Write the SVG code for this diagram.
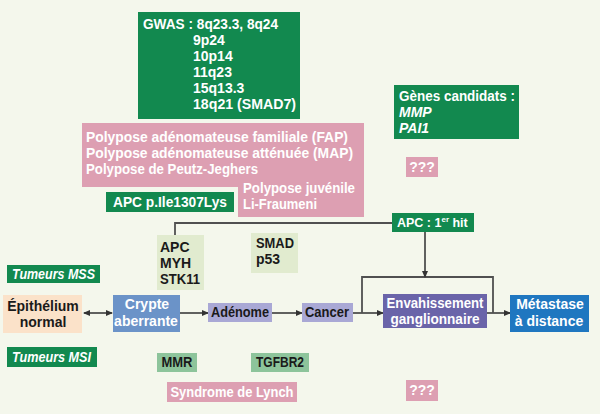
<svg xmlns="http://www.w3.org/2000/svg" width="600" height="414" viewBox="0 0 600 414">
<defs>
<style>
text{font-family:"Liberation Sans",Arial,sans-serif;font-weight:bold;font-size:14px}
.w{fill:#ffffff}.k{fill:#1a1a1a}.i{font-style:italic}
.mid{text-anchor:middle}
.sm{font-size:12.5px}
.dg{fill:#12894f}.pk{fill:#dd9fb2}.pg{fill:#e1ebcf}.mg{fill:#8dc49b}
.lav{fill:#a9a8d5}.pur{fill:#6a64a9}.cry{fill:#6b93c8}.met{fill:#1f77c0}.pch{fill:#fbe2c9}
.ln{fill:none;stroke:#505050;stroke-width:1.8}
</style>
<marker id="ah" markerWidth="7" markerHeight="6" refX="6" refY="3" orient="auto" markerUnits="userSpaceOnUse">
<path d="M0,0 L7,3 L0,6 Z" fill="#333333"/>
</marker>
<marker id="as" markerWidth="7" markerHeight="6" refX="1" refY="3" orient="auto" markerUnits="userSpaceOnUse">
<path d="M7,0 L0,3 L7,6 Z" fill="#333333"/>
</marker>
</defs>
<rect width="600" height="414" fill="#f4f7ec"/>

<g id="connectors">
<path class="ln" d="M84,313 H112" marker-start="url(#as)" marker-end="url(#ah)"/>
<path class="ln" d="M180,313 H208" marker-end="url(#ah)"/>
<path class="ln" d="M272,313 H302" marker-end="url(#ah)"/>
<path class="ln" d="M353,313 H383" marker-end="url(#ah)"/>
<path class="ln" d="M487,313 H510" marker-end="url(#ah)"/>
<path class="ln" d="M362,313 V277 H493 V313"/>
<path class="ln" d="M425,232 V277" marker-end="url(#ah)"/>
<path class="ln" d="M175,236 V223 H392"/>
</g>

<g id="gwas">
<rect class="dg" x="138" y="12" width="162" height="107"/>
<text class="w" x="143" y="29" textLength="135" lengthAdjust="spacingAndGlyphs">GWAS : 8q23.3, 8q24</text>
<text class="w" x="193" y="45">9p24</text>
<text class="w" x="193" y="61">10p14</text>
<text class="w" x="193" y="77">11q23</text>
<text class="w" x="193" y="93">15q13.3</text>
<text class="w" x="193" y="109" textLength="103" lengthAdjust="spacingAndGlyphs">18q21 (SMAD7)</text>
</g>

<g id="genes-candidats">
<rect class="dg" x="394" y="85" width="125" height="54"/>
<text class="w" x="399" y="101" textLength="116" lengthAdjust="spacingAndGlyphs">Gènes candidats :</text>
<text class="w i" x="399" y="117">MMP</text>
<text class="w i" x="399" y="133">PAI1</text>
</g>

<g id="unk-top">
<rect class="pk" x="406" y="157" width="32" height="20"/>
<text class="w mid" x="422" y="172">???</text>
</g>

<g id="polyposes">
<path class="pk" d="M82,123 H364 V217 H238 V187 H82 Z"/>
<text class="w" x="86" y="142" textLength="262" lengthAdjust="spacingAndGlyphs">Polypose adénomateuse familiale (FAP)</text>
<text class="w" x="86" y="158" textLength="267" lengthAdjust="spacingAndGlyphs">Polypose adénomateuse atténuée (MAP)</text>
<text class="w" x="86" y="174" textLength="172" lengthAdjust="spacingAndGlyphs">Polypose de Peutz-Jeghers</text>
<text class="w" x="243" y="193" textLength="112" lengthAdjust="spacingAndGlyphs">Polypose juvénile</text>
<text class="w" x="243" y="209" textLength="74" lengthAdjust="spacingAndGlyphs">Li-Fraumeni</text>
</g>

<g id="apc-ile">
<rect class="dg" x="106" y="192" width="128" height="20"/>
<text class="w" x="113" y="207" textLength="114" lengthAdjust="spacingAndGlyphs">APC p.Ile1307Lys</text>
</g>

<g id="apc-hit">
<rect class="dg" x="392" y="213" width="82" height="19"/>
<text class="w sm" x="397" y="227">APC : 1<tspan font-size="8" dy="-5">er</tspan><tspan dy="5"> hit</tspan></text>
</g>

<g id="genes-apc">
<rect class="pg" x="157" y="235" width="47" height="55"/>
<text class="k" x="160" y="252">APC</text>
<text class="k" x="160" y="268">MYH</text>
<text class="k" x="160" y="284" textLength="40" lengthAdjust="spacingAndGlyphs">STK11</text>
</g>

<g id="genes-smad">
<rect class="pg" x="251" y="233" width="47" height="40"/>
<text class="k" x="256" y="248" textLength="38" lengthAdjust="spacingAndGlyphs">SMAD</text>
<text class="k" x="256" y="264">p53</text>
</g>

<g id="tumeurs-mss">
<rect class="dg" x="7" y="265" width="93" height="18"/>
<text class="w i" x="12" y="279" textLength="83" lengthAdjust="spacingAndGlyphs">Tumeurs MSS</text>
</g>

<g id="epithelium">
<rect class="pch" x="3" y="295" width="79" height="38"/>
<text class="k mid" x="43" y="311">Épithélium</text>
<text class="k mid" x="43" y="327">normal</text>
</g>

<g id="crypte">
<rect class="cry" x="113" y="295" width="67" height="37"/>
<text class="w mid" x="147" y="309">Crypte</text>
<text class="w mid" x="146" y="326">aberrante</text>
</g>

<g id="adenome">
<rect class="lav" x="208" y="303" width="64" height="19"/>
<text class="k mid" x="240" y="317" textLength="58" lengthAdjust="spacingAndGlyphs">Adénome</text>
</g>

<g id="cancer">
<rect class="lav" x="302" y="303" width="51" height="19"/>
<text class="k mid" x="327" y="317" textLength="44" lengthAdjust="spacingAndGlyphs">Cancer</text>
</g>

<g id="envahissement">
<rect class="pur" x="383" y="294" width="104" height="34"/>
<text class="w mid" x="435" y="308" textLength="97" lengthAdjust="spacingAndGlyphs">Envahissement</text>
<text class="w mid" x="435" y="324" textLength="89" lengthAdjust="spacingAndGlyphs">ganglionnaire</text>
</g>

<g id="metastase">
<rect class="met" x="510" y="295" width="79" height="37"/>
<text class="w mid" x="550" y="309">Métastase</text>
<text class="w mid" x="549" y="326">à distance</text>
</g>

<g id="tumeurs-msi">
<rect class="dg" x="7" y="347" width="90" height="20"/>
<text class="w i" x="12" y="362" textLength="79" lengthAdjust="spacingAndGlyphs">Tumeurs MSI</text>
</g>

<g id="mmr">
<rect class="mg" x="157" y="353" width="40" height="19"/>
<text class="k mid" x="177" y="367" textLength="31" lengthAdjust="spacingAndGlyphs">MMR</text>
</g>

<g id="tgfbr2">
<rect class="mg" x="251" y="353" width="58" height="19"/>
<text class="k mid" x="280" y="367" textLength="48" lengthAdjust="spacingAndGlyphs">TGFBR2</text>
</g>

<g id="lynch">
<rect class="pk" x="167" y="382" width="130" height="20"/>
<text class="w mid" x="232" y="397" textLength="123" lengthAdjust="spacingAndGlyphs">Syndrome de Lynch</text>
</g>

<g id="unk-bottom">
<rect class="pk" x="406" y="380" width="32" height="21"/>
<text class="w mid" x="422" y="395">???</text>
</g>
</svg>
